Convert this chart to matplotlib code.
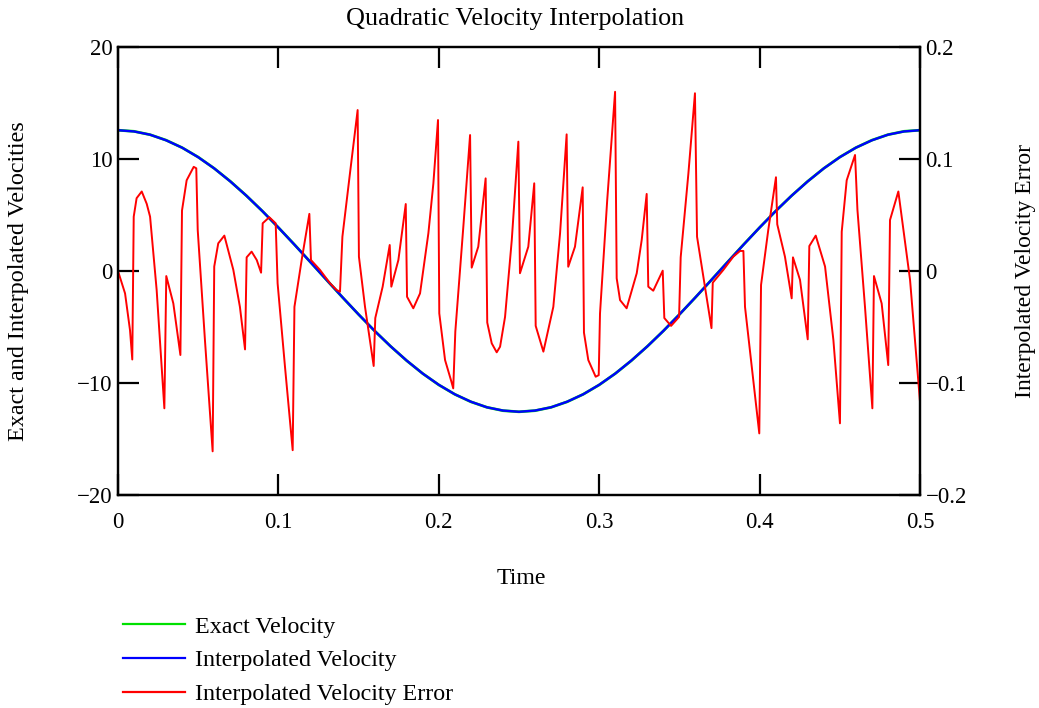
import numpy as np
import matplotlib.pyplot as plt
from matplotlib.lines import Line2D

# ---------------------------------------------------------
# values
# ---------------------------------------------------------
time_nodes = [0.00, 0.01, 0.02, 0.03, 0.04, 0.05, 0.06, 0.07, 0.08, 0.09,
              0.10, 0.11, 0.12, 0.13, 0.14, 0.15, 0.16, 0.17, 0.18, 0.19,
              0.20, 0.21, 0.22, 0.23, 0.24, 0.25, 0.26, 0.27, 0.28, 0.29,
              0.30, 0.31, 0.32, 0.33, 0.34, 0.35, 0.36, 0.37, 0.38, 0.39,
              0.40, 0.41, 0.42, 0.43, 0.44, 0.45, 0.46, 0.47, 0.48, 0.49,
              0.50]

exact_vel = [12.57, 12.47, 12.17, 11.68, 11.01, 10.17, 9.16, 8.01, 6.73, 5.35,
             3.88, 2.36, 0.79, -0.79, -2.36, -3.88, -5.35, -6.73, -8.01, -9.16,
             -10.17, -11.01, -11.68, -12.17, -12.47, -12.57, -12.47, -12.17, -11.68, -11.01,
             -10.17, -9.16, -8.01, -6.73, -5.35, -3.88, -2.36, -0.79, 0.79, 2.36,
             3.88, 5.35, 6.73, 8.01, 9.16, 10.17, 11.01, 11.68, 12.17, 12.47,
             12.57]

interp_vel = [12.57, 12.46, 12.17, 11.67, 11.01, 10.16, 9.16, 8.00, 6.73, 5.35,
              3.88, 2.35, 0.79, -0.79, -2.35, -3.88, -5.35, -6.73, -8.00, -9.16,
              -10.16, -11.01, -11.67, -12.17, -12.46, -12.57, -12.46, -12.17, -11.67, -11.01,
              -10.16, -9.16, -8.00, -6.73, -5.35, -3.88, -2.35, -0.79, 0.79, 2.35,
              3.88, 5.35, 6.73, 8.00, 9.16, 10.16, 11.01, 11.67, 12.17, 12.46,
              12.57]

err_t = [0.0, 0.0044, 0.0075, 0.0089, 0.0098, 0.0116, 0.0148, 0.0179, 0.0200, 0.0241,
         0.0289, 0.0301, 0.0345, 0.0389, 0.0399, 0.0428, 0.0472, 0.0488, 0.0497, 0.0542,
         0.0590, 0.0600, 0.0625, 0.0663, 0.0719, 0.0760, 0.0792, 0.0802, 0.0833, 0.0865,
         0.0892, 0.0902, 0.0943, 0.0983, 0.0995, 0.1041, 0.1089, 0.1100, 0.1145, 0.1193,
         0.1203, 0.1259, 0.1322, 0.1363, 0.1384, 0.1399, 0.1446, 0.1494, 0.1502, 0.1540,
         0.1594, 0.1604, 0.1650, 0.1694, 0.1704, 0.1748, 0.1794, 0.1802, 0.1841, 0.1883,
         0.1935, 0.1966, 0.1995, 0.2003, 0.2039, 0.2077, 0.2090, 0.2103, 0.2153, 0.2195,
         0.2205, 0.2246, 0.2292, 0.2302, 0.2330, 0.2361, 0.2382, 0.2413, 0.2455, 0.2496,
         0.2506, 0.2558, 0.2595, 0.2604, 0.2652, 0.2714, 0.2756, 0.2797, 0.2807, 0.2849,
         0.2897, 0.2905, 0.2932, 0.2978, 0.2997, 0.3005, 0.3050, 0.3099, 0.3109, 0.3130,
         0.3171, 0.3234, 0.3265, 0.3296, 0.3306, 0.3337, 0.3396, 0.3406, 0.3448, 0.3498,
         0.3508, 0.3556, 0.3597, 0.3610, 0.3700, 0.3708, 0.3774, 0.3836, 0.3878, 0.3899,
         0.3909, 0.3998, 0.4009, 0.4054, 0.4102, 0.4110, 0.4158, 0.4200, 0.4208, 0.4252,
         0.4300, 0.4310, 0.4350, 0.4408, 0.4460, 0.4501, 0.4512, 0.4543, 0.4595, 0.4610,
         0.4657, 0.4703, 0.4713, 0.4761, 0.4802, 0.4813, 0.4865, 0.4938, 0.5000, 0.5000]

err_v = [0.0, -0.020, -0.053, -0.079, 0.0485, 0.065, 0.071, 0.060, 0.0485, -0.017,
         -0.1226, -0.0045, -0.029, -0.075, 0.054, 0.081, 0.093, 0.0917, 0.0366, -0.0616,
         -0.161, 0.004, 0.0247, 0.0316, 0.001, -0.032, -0.070, 0.0122, 0.0173, 0.0098,
         -0.0015, 0.0426, 0.048, 0.0426, -0.011, -0.0854, -0.160, -0.032, 0.0098, 0.051,
         0.0098, 0.001, -0.011, -0.017, -0.0185, 0.0306, 0.087, 0.1437, 0.0128, -0.032,
         -0.0848, -0.042, -0.014, 0.0232, -0.014, 0.0098, 0.0598, -0.023, -0.0333, -0.020,
         0.0337, 0.078, 0.1348, -0.0378, -0.0795, -0.098, -0.1048, -0.054, 0.0396, 0.1214,
         0.003, 0.0217, 0.0827, -0.046, -0.0646, -0.0726, -0.0676, -0.041, 0.0277, 0.1155,
         -0.002, 0.0217, 0.0783, -0.049, -0.072, -0.032, 0.0337, 0.122, 0.0038, 0.0217,
         0.0747, -0.055, -0.0795, -0.0944, -0.093, -0.038, 0.0634, 0.160, -0.0065, -0.026,
         -0.0333, -0.002, 0.0277, 0.0688, -0.014, -0.0176, 0.0003, -0.042, -0.049, -0.041,
         0.0122, 0.087, 0.1587, 0.0306, -0.051, -0.0104, 0.001, 0.0128, 0.0179, 0.0179,
         -0.032, -0.145, -0.0125, 0.0366, 0.0837, 0.0417, 0.0128, -0.0244, 0.0122, -0.008,
         -0.061, 0.0223, 0.0316, 0.004, -0.0616, -0.136, 0.0351, 0.081, 0.1036, 0.0545,
         -0.032, -0.1226, -0.0045, -0.029, -0.084, 0.0455, 0.071, -0.008, -0.1167, 0.0]

x_ticks = [0, 0.1, 0.2, 0.3, 0.4, 0.5]
x_tick_labels = ['0', '0.1', '0.2', '0.3', '0.4', '0.5']
left_ticks = [-20, -10, 0, 10, 20]
right_ticks = [-0.2, -0.1, 0, 0.1, 0.2]
right_tick_labels = ['\u22120.2', '\u22120.1', '0', '0.1', '0.2']

plt.rcParams['font.family'] = ['Liberation Serif', 'DejaVu Serif']

W, H = 1039, 708
fig = plt.figure(figsize=(W / 100, H / 100), dpi=100)
ax = fig.add_axes([118 / W, 1 - 495 / H, (920 - 118) / W, (495 - 47) / H])
ax2 = ax.twinx()

ax.plot(time_nodes, exact_vel, color='#00e000', lw=2.0)
ax.plot(time_nodes, interp_vel, color='#0000ff', lw=1.7)
ax2.plot(err_t, err_v, color='#ff0000', lw=1.4)

ax.set_xlim(0, 0.5)
ax.set_ylim(-20, 20)
ax2.set_ylim(-0.2, 0.2)

ax.set_xticks(x_ticks)
ax.set_xticklabels(x_tick_labels)
ax.set_yticks(left_ticks)
ax2.set_yticks(right_ticks)
ax2.set_yticklabels(right_tick_labels)

ax.tick_params(axis='both', direction='in', length=15, width=1.6, top=True,
               right=False, labelsize=16.5)
ax.tick_params(axis='x', pad=12)
ax.tick_params(axis='y', pad=4)
ax2.tick_params(axis='y', direction='in', length=15, width=1.6, labelsize=16.5, pad=4)
for a in (ax, ax2):
    for s in a.spines.values():
        s.set_linewidth(1.6)

fig.text(515 / W, 1 - 19 / H, 'Quadratic Velocity Interpolation', ha='center', va='center',
         fontsize=18.8)
fig.text(521 / W, 1 - 579 / H, 'Time', ha='center', va='center', fontsize=17.2)
fig.text(19 / W, 1 - 281 / H, 'Exact and Interpolated Velocities', ha='center', va='center',
         rotation=90, fontsize=17.4)
fig.text(1026 / W, 1 - 271 / H, 'Interpolated Velocity Error', ha='center', va='center',
         rotation=90, fontsize=17)

handles = [Line2D([], [], color='#00e000', lw=1.6),
           Line2D([], [], color='#0000ff', lw=1.6),
           Line2D([], [], color='#ff0000', lw=1.6)]
labels = ['Exact Velocity', 'Interpolated Velocity', 'Interpolated Velocity Error']
fig.legend(handles, labels, loc='upper left', bbox_to_anchor=(123 / W, 1 - 616 / H),
           frameon=False, borderpad=0, borderaxespad=0, handlelength=2.6,
           handletextpad=0.4, labelspacing=0.49, fontsize=17.3)

fig.savefig('out.png', dpi=100)
